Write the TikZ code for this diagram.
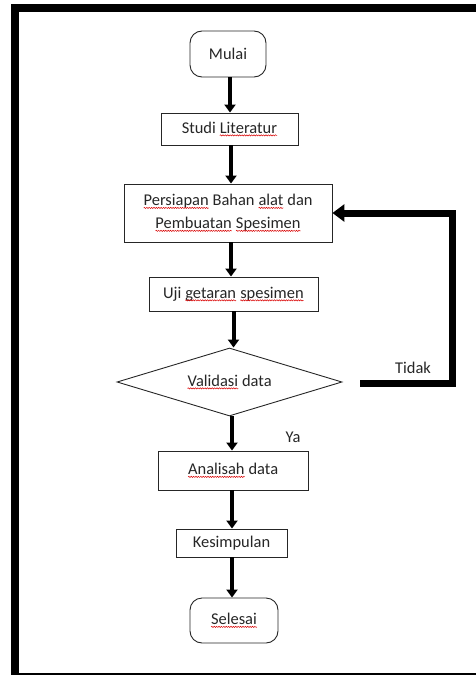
\documentclass[tikz,border=0pt]{standalone}
\usepackage{fontspec}
\setmainfont{Carlito}
\usetikzlibrary{shapes.geometric,arrows.meta,decorations.pathmorphing}
\newcommand\wv[1]{\tikz[baseline=(wvw.base)]{\node[shape=rectangle,draw=none,inner sep=0pt,outer sep=0pt,minimum width=0pt,minimum height=0pt,rounded corners=0pt](wvw){#1};\draw[red!85!black,line width=0.5pt,rounded corners=0pt,decorate,decoration={snake,amplitude=0.6pt,segment length=2.4pt}]([yshift=-2.2pt]wvw.base west)--([yshift=-2.2pt]wvw.base east);}}
\tikzset{
  box/.style={draw=black!85,line width=0.9bp,inner sep=0pt,align=center,text=black!85,font=\fontsize{16.5}{23}\selectfont},
  term/.style={box,rounded corners=12bp},
  dec/.style={box,diamond,aspect=3.3},
  flow/.style={line width=4bp,-{Triangle[width=11bp,length=8bp]}},
  back/.style={line width=7bp,-{Triangle[width=17bp,length=12bp]}},
  lbl/.style={inner sep=0pt,text=black!85,font=\fontsize{16.5}{20}\selectfont}
}
\begin{document}
\begin{tikzpicture}[x=1bp,y=-1bp]
\useasboundingbox (0,0) rectangle (476,675);
\clip (0,0) rectangle (476,675);
\draw[line width=8bp] (14.5,8.5) rectangle (484,677);
\node[term,minimum width=76bp,minimum height=46bp] (mulai) at (228,54) {Mulai};
\node[box,minimum width=137bp,minimum height=32bp] (studi) at (229.5,129) {Studi \wv{Literatur}};
\node[box,minimum width=208bp,minimum height=58bp] (prep) at (228,213) {\wv{Persiapan} Bahan \wv{alat} dan\\\wv{Pembuatan} \wv{Spesimen}};
\node[box,minimum width=169bp,minimum height=34bp] (uji) at (233.5,294) {Uji \wv{getaran} \wv{spesimen}};
\node[dec,minimum width=225bp,minimum height=68bp] (val) at (229.5,382) {\wv{Validasi} data};
\node[box,minimum width=150bp,minimum height=39bp] (ana) at (233,470.5) {\wv{Analisah} data};
\node[box,minimum width=111bp,minimum height=28bp] (kes) at (231.5,543) {Kesimpulan};
\node[term,minimum width=88bp,minimum height=45bp] (sel) at (234,620.5) {\wv{Selesai}};
\node[lbl] (ya) at (293,437) {Ya};
\node[lbl] (tidak) at (413,368) {Tidak};
\coordinate (t1) at (360,383);
\coordinate (corner) at (452,213);
\draw[flow] ([xshift=2bp]mulai.south) -- ([xshift=2bp]mulai.south |- studi.north);
\draw[flow] ([xshift=1.5bp]studi.south) -- ([xshift=1.5bp]studi.south |- prep.north);
\draw[flow] ([xshift=3bp]prep.south) -- ([xshift=3bp]prep.south |- uji.north);
\draw[flow] (uji.south) -- (uji.south |- val.north);
\draw[flow] ([xshift=2.5bp]val.south) -- ([xshift=2.5bp]val.south |- ana.north);
\draw[flow] ([xshift=-1bp]ana.south) -- ([xshift=-1bp]ana.south |- kes.north);
\draw[flow] ([xshift=0.5bp]kes.south) -- ([xshift=0.5bp]kes.south |- sel.north);
\draw[back] (t1) -| (corner) -- (prep.east);
\end{tikzpicture}
\end{document}
